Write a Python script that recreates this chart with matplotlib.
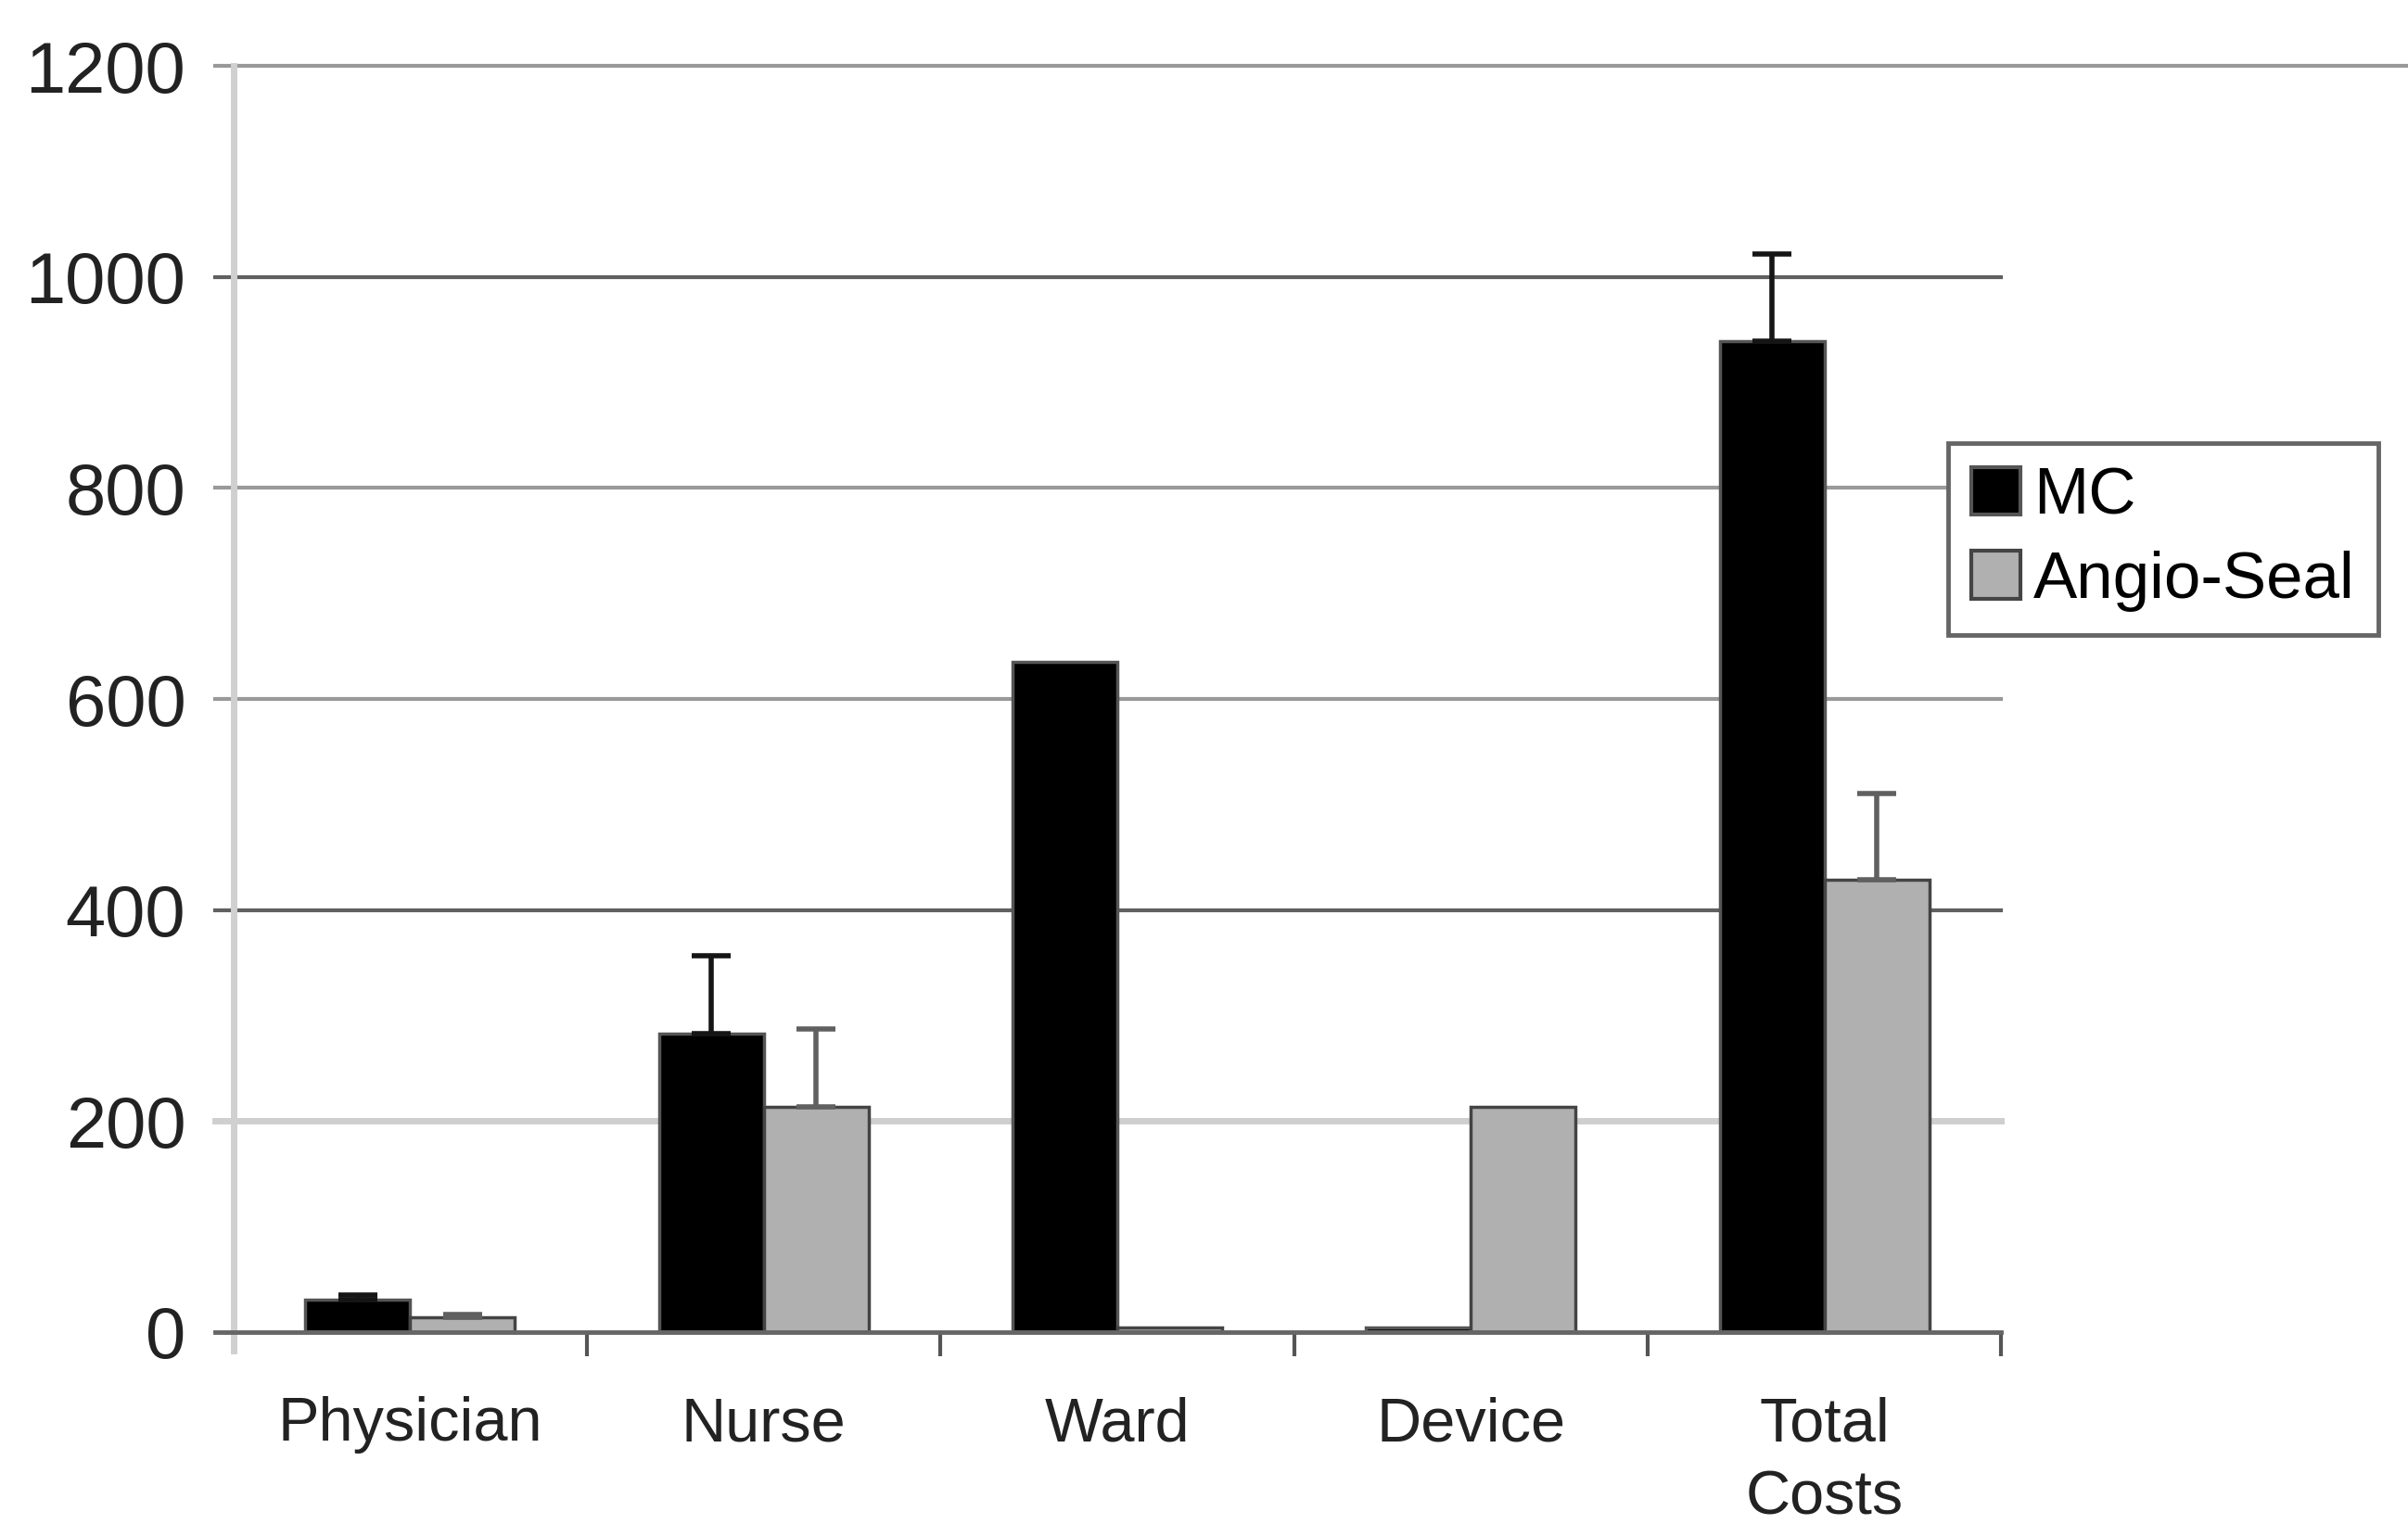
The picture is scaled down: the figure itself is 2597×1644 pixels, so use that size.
import numpy as np
import matplotlib
matplotlib.use('Agg')
import matplotlib.pyplot as plt

plt.rcParams['font.family'] = ['Liberation Sans', 'DejaVu Sans']

# data
categories = ['Physician', 'Nurse', 'Ward', 'Device', 'Total\nCosts']
mc = [31, 283, 635, 4, 939]
mc_err = [4, 74, 0, 0, 83]
angio = [14, 213, 4, 213, 429]
angio_err = [3, 74, 0, 0, 81]
yticks = [0, 200, 400, 600, 800, 1000, 1200]

fig = plt.figure(figsize=(25.97, 16.44), dpi=100)
ax = fig.add_axes([0.0969, 0.126, 0.7342, 0.8307])

x = np.arange(len(categories))
w = 0.296

# gridlines (colours mimic the scanned original)
grid_cols = {200: '#cfcfcf', 400: '#606060', 600: '#999999', 800: '#999999',
             1000: '#606060', 1200: '#999999'}
for yv, c in grid_cols.items():
    lw = 5 if yv == 200 else 3
    xmax = 1.2303 if yv == 1200 else 1.0
    ax.axhline(yv, xmin=-0.0104, xmax=xmax, color=c, lw=lw, zorder=0, clip_on=False)

# axis lines drawn by hand so they overhang a bit like the original
ax.axvline(-0.5, ymin=-0.015, ymax=1.0, color='#d0d0d0', lw=5, zorder=1, clip_on=False)
ax.axhline(0, xmin=-0.0104, xmax=1.0, color='#666666', lw=3.5, zorder=4, clip_on=False)

ax.bar(x - w / 2, mc, w, color='black', edgecolor='#555555', linewidth=2.5,
       label='MC', zorder=2)
ax.bar(x + w / 2, angio, w, color='#b0b0b0', edgecolor='#444444', linewidth=2.5,
       label='Angio-Seal', zorder=2)

# one-sided error bars
for xi, v, e in zip(x - w / 2, mc, mc_err):
    if e > 0:
        ax.errorbar(xi, v, yerr=[[0], [e]], fmt='none', ecolor='#151515',
                    elinewidth=4, capsize=15, capthick=4, zorder=3)
for xi, v, e in zip(x + w / 2, angio, angio_err):
    if e > 0:
        ax.errorbar(xi, v, yerr=[[0], [e]], fmt='none', ecolor='#606060',
                    elinewidth=4, capsize=15, capthick=4, zorder=3)

ax.set_xlim(-0.5, 4.5)
ax.set_ylim(0, 1200)

ax.set_yticks(yticks)
ax.tick_params(axis='y', length=0, pad=37, labelsize=56, labelcolor='#222222')

ax.set_xticks(x)
ax.set_xticklabels(categories, fontsize=48, color='#222222', linespacing=1.35)
ax.tick_params(axis='x', which='major', length=0, pad=50)
ax.set_xticks(np.arange(-0.5, 5.0, 1.0)[1:], minor=True)
ax.tick_params(axis='x', which='minor', length=19, width=3, color='#555555')

for s in ['top', 'right', 'left', 'bottom']:
    ax.spines[s].set_visible(False)

leg = fig.legend(loc='upper left', bbox_to_anchor=(0.809, 0.709), fontsize=51,
                 frameon=True, fancybox=False, framealpha=1, edgecolor='#666666',
                 handlelength=0.75, handleheight=0.75, handletextpad=0.2,
                 borderpad=0.35, labelspacing=0.35, borderaxespad=0)
leg.get_frame().set_linewidth(3.5)
for p in leg.get_patches():
    p.set_linewidth(3)

fig.savefig('out.png', dpi=100)
